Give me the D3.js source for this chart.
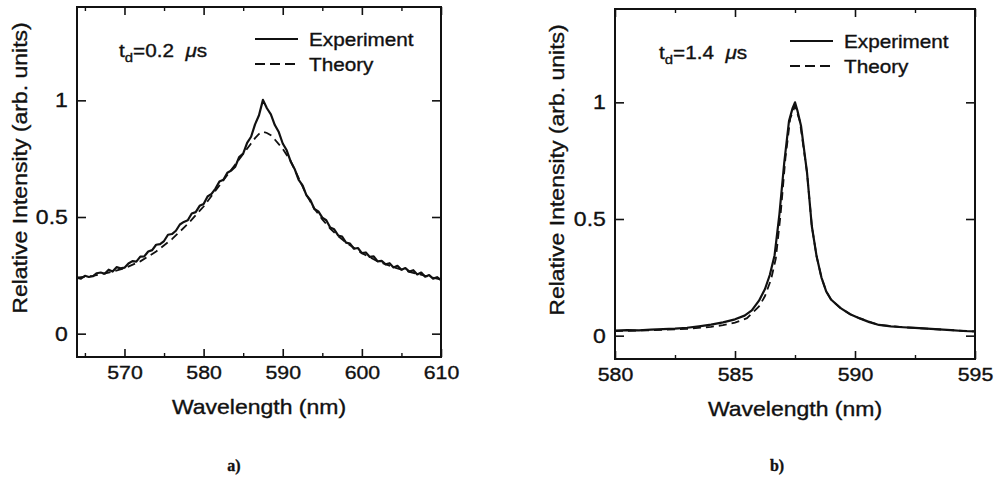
<!DOCTYPE html>
<html lang="en">
<head>
<meta charset="UTF-8">
<title>Line profiles</title>
<script src="https://cdn.jsdelivr.net/npm/d3@7"></script>
<style>
  body { margin: 0; background: #fff; }
  svg text { font-family: "Liberation Sans", Arial, sans-serif; fill: #111; stroke: #111; stroke-width: 0.35px; }
  .caption { font-family: "Liberation Serif", serif; font-weight: bold; }
</style>
</head>
<body>
<svg id="fig" width="1001" height="481"></svg>
<script>
// ---- panel a) td = 0.2 us ----
const gridA = d3.range(564, 610.001, 0.5);   // sampling grid of the scan
const expA = [
  0.240, 0.236, 0.248, 0.243, 0.246, 0.259, 0.262, 0.257, 0.274, 0.266,
  0.285, 0.280, 0.283, 0.301, 0.311, 0.309, 0.330, 0.331, 0.352, 0.358,
  0.381, 0.384, 0.397, 0.424, 0.427, 0.441, 0.468, 0.479, 0.486, 0.515,
  0.521, 0.548, 0.556, 0.588, 0.599, 0.622, 0.652, 0.660, 0.690, 0.699,
  0.716, 0.757, 0.772, 0.818, 0.844, 0.897, 0.936, 1.002, 0.966, 0.940,
  0.894, 0.864, 0.815, 0.786, 0.738, 0.706, 0.660, 0.636, 0.593, 0.572,
  0.534, 0.524, 0.497, 0.486, 0.455, 0.447, 0.421, 0.416, 0.390, 0.386,
  0.364, 0.367, 0.345, 0.348, 0.329, 0.331, 0.310, 0.312, 0.297, 0.302,
  0.284, 0.291, 0.274, 0.281, 0.266, 0.272, 0.254, 0.262, 0.244, 0.251,
  0.236, 0.242, 0.229
];
const theoryAwl = [564, 566, 568, 570, 572, 574, 576, 578, 580, 581, 582, 583, 584, 585, 586,
  586.5, 587, 587.5, 588, 588.5, 589, 590, 591, 592, 593, 594, 595, 596, 597, 598,
  600, 602, 604, 606, 608, 610];
const theoryA = [0.240, 0.248, 0.262, 0.280, 0.310, 0.352, 0.405, 0.470, 0.545, 0.590, 0.635,
  0.680, 0.725, 0.770, 0.815, 0.838, 0.856, 0.865, 0.860, 0.850, 0.832, 0.792, 0.740,
  0.668, 0.595, 0.535, 0.490, 0.450, 0.418, 0.390, 0.345, 0.310, 0.285, 0.265, 0.248, 0.232];

// ---- panel b) td = 1.4 us ----
const expBwl = [580, 580.5, 581, 581.5, 582, 582.5, 583, 583.5, 584, 584.5, 585, 585.4, 585.7,
  586, 586.25, 586.45, 586.65, 586.85, 587.05, 587.25, 587.4, 587.5, 587.6, 587.75, 588,
  588.2, 588.4, 588.6, 588.8, 589, 589.4, 589.8, 590.2, 590.6, 591, 591.5, 592, 592.5,
  593, 593.5, 594, 594.5, 595];
const expB = [0.022, 0.024, 0.023, 0.026, 0.028, 0.030, 0.034, 0.040, 0.047, 0.057, 0.070,
  0.086, 0.108, 0.150, 0.200, 0.260, 0.345, 0.520, 0.740, 0.920, 0.975, 1.000, 0.965,
  0.900, 0.700, 0.470, 0.340, 0.250, 0.190, 0.155, 0.118, 0.092, 0.074, 0.058, 0.046,
  0.040, 0.036, 0.033, 0.030, 0.027, 0.024, 0.020, 0.018];
const theoryBwl = [580, 581, 582, 583, 584, 584.5, 585, 585.5, 586, 586.25, 586.5, 586.7,
  586.9, 587.1, 587.3, 587.5, 587.7, 588, 588.2, 588.4, 588.6, 588.8, 589, 589.4, 589.8,
  590.2, 591, 592, 593, 594, 595];
const theoryB = [0.020, 0.022, 0.025, 0.029, 0.038, 0.045, 0.056, 0.075, 0.125, 0.170, 0.240,
  0.330, 0.520, 0.760, 0.930, 0.985, 0.920, 0.700, 0.470, 0.340, 0.250, 0.190, 0.155,
  0.118, 0.092, 0.074, 0.046, 0.036, 0.030, 0.024, 0.018];

const yTicks = [0, 0.5, 1];
const ticksA = [570, 580, 590, 600, 610], minorA = [565, 575, 585, 595, 605];
const ticksB = [580, 585, 590, 595], minorB = [582.5, 587.5, 592.5];

const SX = 1.15;   // the scanned lettering is a bit wide
const svg = d3.select("#fig");

function stretchedText(g, x, y, str, size, anchor) {
  return g.append("text")
    .attr("transform", "translate(" + x + "," + y + ") scale(" + SX + ",1)")
    .attr("text-anchor", anchor || "start")
    .style("font-size", size + "px")
    .text(str);
}

function panel(p) {
  const x = d3.scaleLinear().domain(p.xDomain).range([p.left, p.right]);
  const y = d3.scaleLinear().domain([-0.1, 1.4]).range([p.bottom, p.top]);
  const g = svg.append("g");

  // ticks, all pointing inward, mirrored on all four sides
  const axes = [
    [d3.axisBottom(x).tickValues(p.ticks).tickSize(-8), p.bottom, true],
    [d3.axisTop(x).tickValues(p.ticks).tickSize(-8), p.top, false]
  ];
  axes.forEach(([ax, pos, labels]) => {
    const a = g.append("g").attr("transform", "translate(0," + pos + ")")
      .call(ax.tickSizeOuter(0).tickPadding(9).tickFormat(labels ? d3.format("d") : ""));
    a.select(".domain").remove();
    a.selectAll("line").attr("stroke", "#111").attr("stroke-width", 1.6);
    a.selectAll("text").attr("transform", "scale(" + SX + ",1)")
      .style("font-size", "18.5px").attr("fill", "#111");
  });
  [[d3.axisBottom(x), p.bottom], [d3.axisTop(x), p.top]].forEach(([ax, pos]) => {
    const a = g.append("g").attr("transform", "translate(0," + pos + ")")
      .call(ax.tickValues(p.minor).tickSize(-4).tickSizeOuter(0).tickFormat(""));
    a.select(".domain").remove();
    a.selectAll("line").attr("stroke", "#111").attr("stroke-width", 1.4);
  });
  const yl = g.append("g").attr("transform", "translate(" + p.left + ",0)")
    .call(d3.axisLeft(y).tickValues(yTicks).tickSize(-9).tickSizeOuter(0).tickPadding(8)
      .tickFormat(d => d === 0.5 ? "0.5" : d3.format("d")(d)));
  yl.select(".domain").remove();
  yl.selectAll("line").attr("stroke", "#111").attr("stroke-width", 1.6);
  yl.selectAll("text").attr("transform", "scale(" + SX + ",1)")
    .style("font-size", "20px").attr("fill", "#111");
  const yr = g.append("g").attr("transform", "translate(" + p.right + ",0)")
    .call(d3.axisRight(y).tickValues(yTicks).tickSize(-9).tickSizeOuter(0).tickFormat(""));
  yr.select(".domain").remove();
  yr.selectAll("line").attr("stroke", "#111").attr("stroke-width", 1.6);

  g.append("rect")
    .attr("x", p.left).attr("y", p.top)
    .attr("width", p.right - p.left).attr("height", p.bottom - p.top)
    .attr("fill", "none").attr("stroke", "#111").attr("stroke-width", 2);

  const line = d3.line().x(d => x(d[0])).y(d => y(d[1]));
  g.append("path")
    .datum(p.thWl.map((w, i) => [w, p.th[i]]))
    .attr("d", line).attr("fill", "none")
    .attr("stroke", "#111").attr("stroke-width", 1.8).attr("stroke-dasharray", "8,5");
  g.append("path")
    .datum(p.expWl.map((w, i) => [w, p.exp[i]]))
    .attr("d", line).attr("fill", "none")
    .attr("stroke", "#111").attr("stroke-width", 2.2).attr("stroke-linejoin", "round");

  // axis titles
  stretchedText(g, (p.left + p.right) / 2, p.bottom + 57, "Wavelength (nm)", 20, "middle");
  g.append("text")
    .attr("transform", "translate(" + p.ylabX + "," + p.ylabY + ") rotate(-90) scale(" + SX + ",1)")
    .attr("text-anchor", "middle").style("font-size", "20px")
    .text("Relative Intensity (arb. units)");

  // delay annotation
  const t = g.append("text")
    .attr("transform", "translate(" + p.noteX + "," + (p.top + 50) + ") scale(" + SX + ",1)")
    .style("font-size", "18px");
  t.append("tspan").text("t");
  t.append("tspan").attr("dy", 5).style("font-size", "13px").text("d");
  t.append("tspan").attr("dy", -5).text("=" + p.delay + "\u00a0\u00a0");
  t.append("tspan").style("font-style", "italic").text("\u03bc");
  t.append("tspan").text("s");

  // legend
  const lg = g.append("g");
  lg.append("line").attr("x1", p.legX).attr("x2", p.legX + 43)
    .attr("y1", p.top + 32).attr("y2", p.top + 32)
    .attr("stroke", "#111").attr("stroke-width", 2);
  lg.append("line").attr("x1", p.legX).attr("x2", p.legX + 43)
    .attr("y1", p.top + 57).attr("y2", p.top + 57)
    .attr("stroke", "#111").attr("stroke-width", 2).attr("stroke-dasharray", "10,5");
  stretchedText(lg, p.legX + 54, p.top + 39, "Experiment", 18);
  stretchedText(lg, p.legX + 54, p.top + 64, "Theory", 18);

  g.append("text").attr("class", "caption")
    .attr("x", p.capX).attr("y", 471).attr("text-anchor", "middle")
    .style("font-size", "16px").text(p.caption);
}

panel({
  xDomain: [564, 610], left: 77, right: 441, top: 7, bottom: 357,
  ticks: ticksA, minor: minorA,
  expWl: gridA, exp: expA, thWl: theoryAwl, th: theoryA,
  ylabX: 27, ylabY: 168, noteX: 119, delay: "0.2",
  legX: 255, capX: 234, caption: "a)"
});
panel({
  xDomain: [580, 595], left: 615, right: 975, top: 9, bottom: 359,
  ticks: ticksB, minor: minorB,
  expWl: expBwl, exp: expB, thWl: theoryBwl, th: theoryB,
  ylabX: 564, ylabY: 170, noteX: 659, delay: "1.4",
  legX: 790, capX: 777, caption: "b)"
});
</script>
</body>
</html>
